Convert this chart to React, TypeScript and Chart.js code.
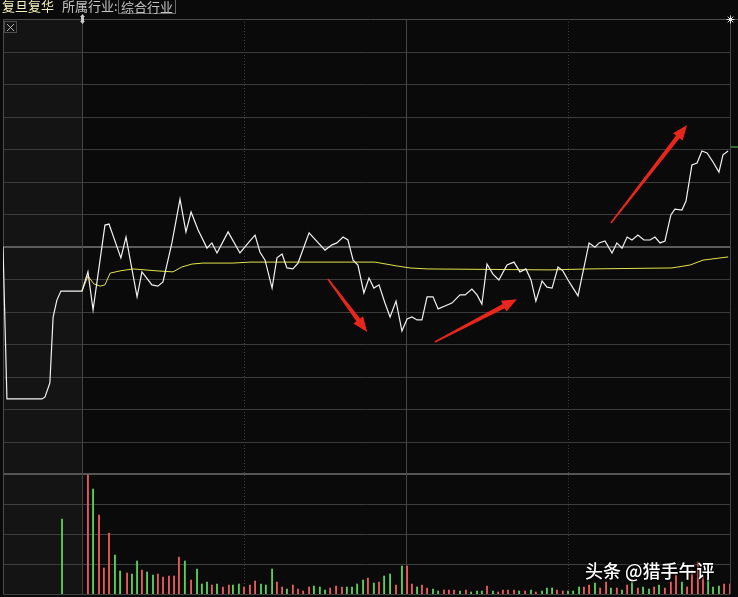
import React, { useEffect, useRef } from "react";
import { Chart, registerables } from "chart.js";

Chart.register(...registerables);

// time axis: minutes from 9:30 open (negative = pre-open auction area)
const TIME_MIN = -29.26;
const TIME_MAX = 240;
// price axis: % change vs previous close; top panel spans -7..7
const PRICE_MIN = -10.692;
const PRICE_MAX = 7;
// volume axis
const VOL_MAX = 57500;

const priceTimes = [
  -29.26, -27.8, -14.8, -13.7, -11.9, -10.7, -9.3, -7.8, 0,
  2.2, 4.1, 8.5, 10.0, 14.4, 16.3, 20.4, 22.2, 25.9, 28.1, 30.0, 33.3, 36.3, 38.5, 40.4, 43.0,
  46.3, 48.1, 50.0, 54.1, 58.5, 62.2, 64.1, 65.9, 67.8, 70.4, 72.2, 74.1, 75.9, 78.1, 80.0,
  84.1, 90.0, 92.6, 94.4, 96.7, 98.5, 100.4, 102.2, 104.4, 106.3, 108.1, 110.0, 112.2, 114.1,
  116.3, 118.5, 120.4, 122.2, 124.1, 125.9, 127.8, 130.0, 131.9, 134.4, 137.0, 140.0, 141.9,
  144.4, 146.3, 148.1, 150.0, 152.2, 154.4, 157.4, 160.0, 162.2, 164.4, 166.3, 168.1, 170.4,
  172.2, 174.1, 176.3, 178.1, 180.0, 181.9, 183.7, 187.8, 190.0, 191.5, 193.7, 196.3, 198.1,
  200.0, 201.9, 203.7, 205.9, 208.1, 210.4, 212.2, 214.1, 215.9, 218.1, 219.6, 222.2, 223.7,
  225.9, 227.8, 229.6, 231.5, 233.7, 235.9, 237.4, 239.3,
];
const priceValues = [
  0, -4.69, -4.69, -4.63, -4.2, -2.17, -1.65, -1.37, -1.37,
  -0.78, -1.95, 0.66, 0.69, -0.35, 0.29, -1.55, -0.78, -1.18, -1.22, -1.09, 0.11, 1.46, 0.45, 1.06, 0.51,
  -0.05, 0.11, -0.2, 0.45, -0.2, 0.17, 0.35, -0.17, -0.42, -1.28, -0.35, -0.23, -0.66, -0.69, -0.51,
  0.42, -0.11, 0.05, 0.11, 0.29, 0.2, -0.42, -0.57, -1.43, -0.97, -1.28, -1.18, -1.74, -2.17,
  -1.68, -2.6, -2.23, -2.17, -2.26, -2.26, -1.55, -1.55, -1.92, -1.83, -1.74, -1.49, -1.49,
  -1.31, -1.49, -1.77, -0.54, -0.85, -1.03, -0.57, -0.48, -0.78, -0.69, -1.03, -1.68, -1.06,
  -1.25, -1.28, -0.63, -0.75, -1.03, -1.28, -1.52, 0.11, -0.02, 0.11, 0.17, -0.2, 0.11,
  -0.05, 0.29, 0.2, 0.35, 0.2, 0.2, 0.29, 0.11, 0.17, 0.97, 1.15, 1.12, 1.4,
  2.51, 2.57, 2.94, 2.88, 2.6, 2.29, 2.82, 2.94,
];

const avgTimes = [0, 2.2, 4.4, 6.7, 8.5, 10.4, 14.1, 18.9, 27.8, 33.7, 37.0, 40.7, 44.8, 55.9, 62.2, 108.5, 116.7, 121.5, 127.8, 173.3, 188.1, 218.5, 225.2, 230.0, 239.3];
const avgValues = [-1.37, -0.91, -1.15, -1.22, -1.18, -0.82, -0.75, -0.69, -0.75, -0.78, -0.63, -0.54, -0.51, -0.51, -0.48, -0.48, -0.6, -0.66, -0.69, -0.72, -0.69, -0.66, -0.57, -0.42, -0.32];

const volTimes = [
  -7.4, 2.2, 4.1, 6.3, 8.1, 10.0, 12.2, 14.1, 16.7, 18.5, 20.4, 22.2, 24.1, 26.3, 28.1, 30.0,
  32.2, 34.1, 35.9, 38.1, 40.4, 42.6, 44.4, 46.3, 48.1, 50.0, 52.2, 54.4, 55.9, 58.1, 60.0,
  62.2, 64.1, 66.3, 68.1, 70.4, 72.2, 74.1, 75.9, 78.1, 80.0, 81.9, 84.1, 85.9, 88.1, 90.0,
  91.9, 94.1, 96.3, 98.1, 100.0, 101.9, 104.1, 105.9, 108.1, 110.0, 111.9, 114.1, 116.3, 118.5,
  120.4, 122.2, 124.1, 125.9, 127.8, 130.0, 131.9, 134.1, 135.9, 137.8, 140.0, 142.2, 144.1,
  146.3, 148.1, 150.0, 152.2, 154.1, 155.9, 157.8, 160.0, 161.9, 164.1, 166.3, 168.1, 170.4,
  172.2, 174.1, 175.9, 178.1, 180.0, 181.9, 184.1, 185.9, 187.8, 190.0, 191.9, 194.1, 195.9,
  198.1, 200.0, 201.9, 203.7, 205.9, 207.8, 210.0, 211.9, 213.7, 215.9, 218.1, 220.0, 222.2,
  224.1, 225.9, 228.1, 230.0, 231.9, 233.7, 235.9, 237.8, 240.0,
];
const volValues = [
  7500, 11900, 10500, 7900, 2600, 6100, 3900, 2300, 2100, 2000, 3300, 2400, 2200, 1900, 2000, 1700,
  1800, 1800, 3700, 3300, 1400, 2500, 1000, 1200, 900, 1000, 700, 900, 900, 1000, 700,
  900, 1300, 1000, 900, 2500, 1200, 700, 500, 900, 500, 300, 700, 800, 700, 400,
  600, 800, 700, 700, 700, 1000, 1400, 1600, 1100, 1200, 1800, 2000, 900, 2800,
  2800, 1000, 700, 900, 600, 500, 300, 400, 400, 400, 300, 400, 200,
  300, 300, 800, 300, 200, 400, 400, 400, 300, 300, 400, 200, 300,
  600, 600, 400, 300, 300, 300, 700, 700, 900, 1100, 600, 1200, 600,
  600, 400, 900, 1300, 600, 700, 500, 700, 900, 600, 1200, 1900, 1200,
  700, 2400, 3200, 1800, 1900, 700, 800, 1000, 1000,
];
// 1 = up (red), 0 = down (green)
const volUp = [
  0, 1, 0, 1, 1, 1, 0, 0, 1, 0, 0, 1, 0, 0, 1, 1,
  1, 1, 1, 0, 1, 0, 0, 0, 1, 0, 1, 1, 0, 0, 1,
  1, 1, 0, 0, 0, 1, 1, 0, 1, 1, 1, 1, 0, 0, 0,
  1, 1, 1, 0, 0, 0, 0, 1, 0, 1, 0, 0, 1, 0,
  1, 1, 0, 1, 1, 0, 0, 1, 1, 1, 0, 1, 0,
  0, 0, 1, 0, 1, 1, 1, 1, 0, 1, 0, 1, 0,
  0, 0, 1, 1, 0, 0, 0, 1, 1, 0, 1, 1, 0,
  1, 0, 1, 0, 1, 0, 0, 1, 0, 1, 1, 1, 0,
  1, 1, 1, 1, 0, 0, 0, 1, 1,
];

const priceGridValues = [-7, -6, -5, -4, -3, -2, -1, 0, 1, 2, 3, 4, 5, 6, 7];
const volGridValues = [0, 3000, 6000, 9000];
const timeGridValues = [0, 60, 120, 180, 240];
const timeGridDotted = [false, true, false, true, false];

// annotation arrows (tail -> head), in data units (minute, % change)
const arrowTailT = [91.1, 130.7, 195.9];
const arrowTailV = [-1.0, -2.94, 0.72];
const arrowHeadT = [105.6, 161.1, 224.1];
const arrowHeadV = [-2.63, -1.62, 3.74];

const BG = "#0a0a0a";

const panelPlugin = {
  id: "panelPlugin",
  beforeDatasetsDraw(chart: any) {
    const { ctx, chartArea, scales } = chart;
    const xs = scales.x;
    const ys = scales.y;
    const yv = scales.yv;
    const L = chartArea.left;
    const R = chartArea.right;
    const T = chartArea.top;
    const B = chartArea.bottom;
    ctx.save();
    const x0 = Math.round(xs.getPixelForValue(0));
    ctx.fillStyle = "#141414";
    ctx.fillRect(L, T, x0 - L, B - T);

    priceGridValues.forEach((v) => {
      const y = Math.round(ys.getPixelForValue(v));
      ctx.beginPath();
      if (v === 0 || v === -7) {
        ctx.strokeStyle = v === 0 ? "#5c5c5c" : "#555555";
        ctx.lineWidth = 2;
        ctx.moveTo(L, y);
        ctx.lineTo(R, y);
      } else if (v === 7) {
        ctx.strokeStyle = "#4a4a4a";
        ctx.lineWidth = 1;
        ctx.moveTo(L, y + 0.5);
        ctx.lineTo(chart.width, y + 0.5);
      } else {
        ctx.strokeStyle = "#3c3c3c";
        ctx.lineWidth = 1;
        ctx.moveTo(L, y + 0.5);
        ctx.lineTo(R, y + 0.5);
      }
      ctx.stroke();
    });
    volGridValues.forEach((v) => {
      const y = Math.round(yv.getPixelForValue(v));
      ctx.beginPath();
      ctx.strokeStyle = "#3e3e3e";
      ctx.lineWidth = 1;
      ctx.moveTo(L, y + 0.5);
      ctx.lineTo(R, y + 0.5);
      ctx.stroke();
    });
    ctx.beginPath();
    ctx.strokeStyle = "#4a4a4a";
    ctx.lineWidth = 1;
    ctx.moveTo(L + 0.5, T);
    ctx.lineTo(L + 0.5, B);
    ctx.stroke();
    timeGridValues.forEach((t, i) => {
      const x = Math.round(xs.getPixelForValue(t)) + 0.5;
      ctx.beginPath();
      ctx.strokeStyle = timeGridDotted[i] ? "#3a3a3a" : "#454545";
      ctx.setLineDash(timeGridDotted[i] ? [1, 2] : []);
      ctx.moveTo(x, T);
      ctx.lineTo(x, B);
      ctx.stroke();
    });
    ctx.setLineDash([]);
    ctx.restore();
  },
  afterDatasetsDraw(chart: any) {
    const { ctx, scales, chartArea } = chart;
    const xs = scales.x;
    const ys = scales.y;
    ctx.save();
    for (let i = 0; i < arrowTailT.length; i++) {
      const x1 = xs.getPixelForValue(arrowTailT[i]);
      const y1 = ys.getPixelForValue(arrowTailV[i]);
      const x2 = xs.getPixelForValue(arrowHeadT[i]);
      const y2 = ys.getPixelForValue(arrowHeadV[i]);
      const dx = x2 - x1;
      const dy = y2 - y1;
      const len = Math.hypot(dx, dy);
      const ux = dx / len;
      const uy = dy / len;
      const nx = -uy;
      const ny = ux;
      const hl = 15;
      const hw = 6;
      const bx = x2 - ux * hl;
      const by = y2 - uy * hl;
      ctx.beginPath();
      ctx.moveTo(x1 + nx * 0.8, y1 + ny * 0.8);
      ctx.lineTo(bx + nx * 2.3, by + ny * 2.3);
      ctx.lineTo(bx + nx * hw, by + ny * hw);
      ctx.lineTo(x2, y2);
      ctx.lineTo(bx - nx * hw, by - ny * hw);
      ctx.lineTo(bx - nx * 2.3, by - ny * 2.3);
      ctx.lineTo(x1 - nx * 0.8, y1 - ny * 0.8);
      ctx.closePath();
      ctx.fillStyle = "#e8261c";
      ctx.fill();
    }
    const T = chartArea.top;
    ctx.strokeStyle = "#4c4c4c";
    ctx.lineWidth = 1;
    ctx.strokeRect(4.5, T + 2.5, 12, 11);
    ctx.strokeStyle = "#b0b0b0";
    ctx.beginPath();
    ctx.moveTo(7, T + 5);
    ctx.lineTo(14, T + 12);
    ctx.moveTo(14, T + 5);
    ctx.lineTo(7, T + 12);
    ctx.stroke();
    const xo = Math.round(xs.getPixelForValue(0)) + 0.5;
    ctx.fillStyle = "#c8c8c8";
    ctx.beginPath();
    ctx.moveTo(xo, T - 5);
    ctx.lineTo(xo + 2.5, T - 2);
    ctx.lineTo(xo + 1.5, T - 2);
    ctx.lineTo(xo + 1.5, T + 2);
    ctx.lineTo(xo + 2.5, T + 2);
    ctx.lineTo(xo, T + 5);
    ctx.lineTo(xo - 2.5, T + 2);
    ctx.lineTo(xo - 1.5, T + 2);
    ctx.lineTo(xo - 1.5, T - 2);
    ctx.lineTo(xo - 2.5, T - 2);
    ctx.closePath();
    ctx.fill();
    const xr = Math.round(xs.getPixelForValue(TIME_MAX)) + 0.5;
    ctx.strokeStyle = "#e0e0e0";
    ctx.lineWidth = 1;
    ctx.beginPath();
    for (let k = 0; k < 4; k++) {
      const a = (k * Math.PI) / 4;
      ctx.moveTo(xr - Math.cos(a) * 4, T + 0.5 - Math.sin(a) * 4);
      ctx.lineTo(xr + Math.cos(a) * 4, T + 0.5 + Math.sin(a) * 4);
    }
    ctx.stroke();
    ctx.fillStyle = "#f0f0f0";
    ctx.fillRect(xr - 1.5, T - 1, 3, 3);
    ctx.fillStyle = "#2f6a2f";
    ctx.fillRect(chartArea.right + 1, Math.round(ys.getPixelForValue(3.08)), 7, 2);
    ctx.restore();
  },
};

export default function App() {
  const canvasRef = useRef<HTMLCanvasElement | null>(null);

  useEffect(() => {
    document.body.style.margin = "0";
    document.body.style.background = BG;
    const canvas = canvasRef.current;
    if (!canvas) return;
    const priceData = priceTimes.map((t, i) => ({ x: t, y: priceValues[i] }));
    const avgData = avgTimes.map((t, i) => ({ x: t, y: avgValues[i] }));
    const volData = volTimes.map((t, i) => ({ x: t, y: volValues[i] }));
    const volColors = volUp.map((u) => (u ? "#ea5a5a" : "#58d058"));

    const chart = new Chart(canvas, {
      type: "line",
      data: {
        datasets: [
          {
            type: "line",
            data: priceData,
            xAxisID: "x",
            yAxisID: "y",
            borderColor: "#f2f2f2",
            borderWidth: 1.2,
            pointRadius: 0,
            tension: 0,
            order: 0,
          },
          {
            type: "line",
            data: avgData,
            xAxisID: "x",
            yAxisID: "y",
            borderColor: "#e4e44c",
            borderWidth: 1,
            pointRadius: 0,
            tension: 0,
            order: 1,
          },
          {
            type: "bar",
            data: volData,
            xAxisID: "x",
            yAxisID: "yv",
            backgroundColor: volColors,
            borderWidth: 0,
            barThickness: 1.2,
            order: 2,
          } as any,
        ],
      },
      options: {
        responsive: false,
        maintainAspectRatio: false,
        devicePixelRatio: 1,
        animation: false,
        events: [],
        layout: { padding: { left: 3, top: 19, right: 8, bottom: 3 } },
        plugins: { legend: { display: false }, tooltip: { enabled: false } },
        scales: {
          x: { type: "linear", min: TIME_MIN, max: TIME_MAX, display: false, offset: false },
          y: { type: "linear", min: PRICE_MIN, max: PRICE_MAX, display: false },
          yv: { type: "linear", min: 0, max: VOL_MAX, display: false },
        },
      },
      plugins: [panelPlugin],
    });
    return () => chart.destroy();
  }, []);

  const cjk = '"Noto Sans CJK SC", "Noto Sans", sans-serif';
  return (
    <div
      style={{
        position: "fixed",
        left: 0,
        top: 0,
        width: 738,
        height: 597,
        background: BG,
        overflow: "hidden",
        fontFamily: cjk,
      }}
    >
      <canvas ref={canvasRef} width={738} height={597} style={{ display: "block", width: 738, height: 597 }} />
      <div style={{ position: "absolute", left: 2, top: -2, fontSize: 13, lineHeight: "15px", color: "#f4f2c0", whiteSpace: "nowrap" }}>
        复旦复华
      </div>
      <div style={{ position: "absolute", left: 62, top: -2, fontSize: 13, lineHeight: "15px", color: "#c4c4c4", whiteSpace: "nowrap" }}>
        所属行业:
      </div>
      <div
        style={{
          position: "absolute",
          left: 118,
          top: -1,
          height: 13,
          padding: "0 2px",
          border: "1px solid #6a6a6a",
          fontSize: 13,
          lineHeight: "13px",
          color: "#c4c4c4",
          whiteSpace: "nowrap",
        }}
      >
        综合行业
      </div>
      <div
        style={{
          position: "absolute",
          left: 585,
          top: 560,
          fontSize: 18,
          lineHeight: "20px",
          fontWeight: 500,
          color: "#ffffff",
          textShadow: "1px 1px 2px #000, -1px -1px 2px #000, 0 0 3px #000",
          whiteSpace: "nowrap",
        }}
      >
        头条 @猎手午评
      </div>
    </div>
  );
}
